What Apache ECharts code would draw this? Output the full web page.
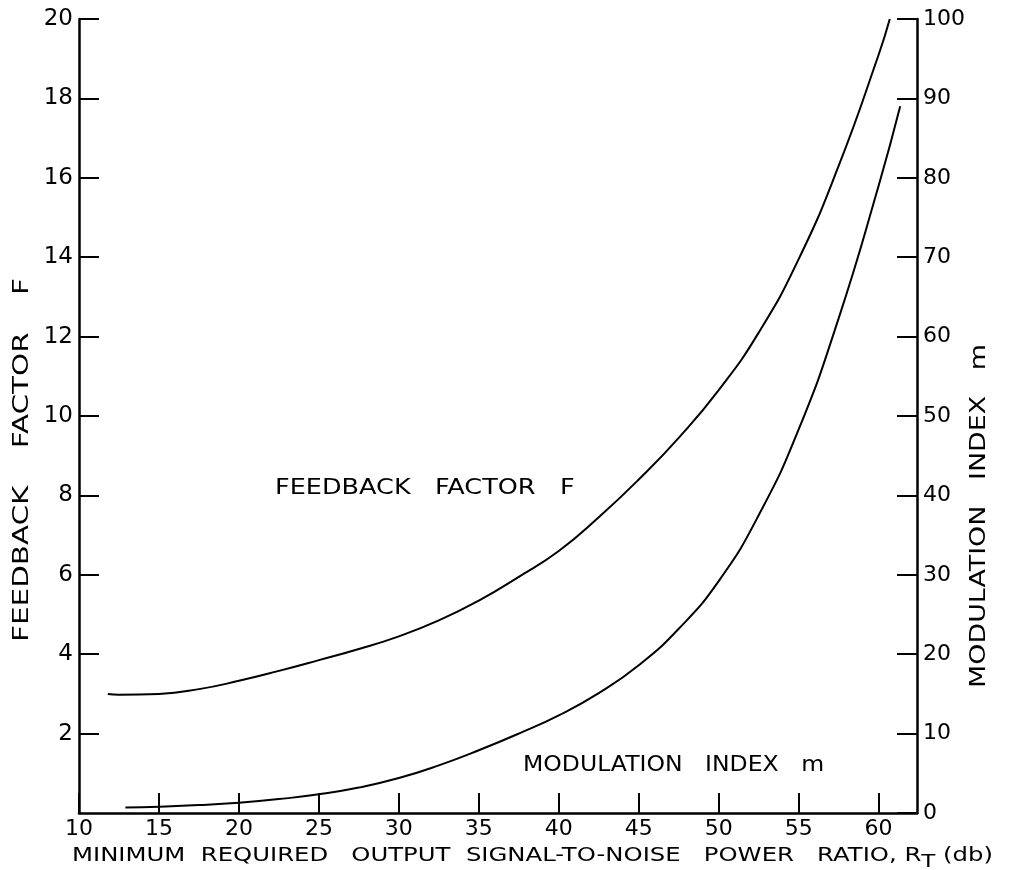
<!DOCTYPE html>
<html>
<head>
<meta charset="utf-8">
<script src="https://cdn.jsdelivr.net/npm/echarts@6/dist/echarts.min.js"></script>
<style>
html,body{margin:0;padding:0;background:#fff;}
#chart{width:1009px;height:870px;}
</style>
</head>
<body>
<div id="chart"></div>
<script>
// Feedback factor F (left axis) vs R_T (db)
var rtF = [11.8, 12.5, 15, 17.5, 20, 22.5, 25, 27.5, 30, 32.5, 35, 37.5, 40, 42.5, 45, 47.5, 50, 52.5, 55, 57.5, 60, 60.7];
var feedbackF = [3.0, 2.98, 3.0, 3.12, 3.33, 3.58, 3.85, 4.13, 4.45, 4.85, 5.35, 5.95, 6.6, 7.45, 8.4, 9.45, 10.65, 12.1, 13.95, 16.3, 19.1, 20.0];
// Modulation index m (right axis) vs R_T (db)
var rtM = [12.9, 15, 17.5, 20, 22.5, 25, 27.5, 30, 32.5, 35, 37.5, 40, 42.5, 45, 47.5, 50, 52.5, 55, 57.5, 60, 61.35];
var modIndex = [0.7, 0.8, 1.0, 1.3, 1.75, 2.35, 3.2, 4.4, 6.0, 7.9, 10.0, 12.3, 15.1, 18.6, 23.2, 29.2, 37.5, 48.3, 62.3, 79.0, 89.0];

var xTicks = [10, 15, 20, 25, 30, 35, 40, 45, 50, 55, 60];
var leftTitle = 'FEEDBACK    FACTOR    F';
var rightTitle = 'MODULATION   INDEX   m';
var curveLabelF = 'FEEDBACK   FACTOR   F';
var curveLabelM = 'MODULATION   INDEX   m';

var FONT = 'DejaVu Sans';

function pairs(xs, ys) { return xs.map(function (x, i) { return [x, ys[i]]; }); }

var chart = echarts.init(document.getElementById('chart'), null, {renderer: 'canvas'});

var axisLineStyle = {show: true, lineStyle: {color: '#000', width: 2.5}};
var tickStyle = {show: true, inside: true, length: 20, lineStyle: {color: '#000', width: 2}};

function txt(x, y, text, size, sx, rot, align) {
  return {
    type: 'text', x: x, y: y, rotation: rot || 0, scaleX: sx, scaleY: 1,
    style: {text: text, fill: '#000', fontFamily: FONT, fontSize: size,
      align: align, verticalAlign: 'middle', textAlign: align, textVerticalAlign: 'middle'}
  };
}

chart.setOption({
  backgroundColor: '#fff',
  animation: false,
  grid: {left: 79, right: 92, top: 19, bottom: 57},
  xAxis: {
    type: 'value', min: 10, max: 62.4, interval: 5,
    axisLine: axisLineStyle,
    axisTick: {show: true, inside: true, length: 20, lineStyle: {color: '#000', width: 2}, customValues: xTicks},
    splitLine: {show: false},
    axisLabel: {color: '#000', fontFamily: FONT, fontSize: 22, margin: 5, customValues: xTicks}
  },
  yAxis: [
    {
      type: 'value', position: 'left', min: 0, max: 20, interval: 2,
      axisLine: axisLineStyle, axisTick: tickStyle, splitLine: {show: false},
      axisLabel: {color: '#000', fontFamily: FONT, fontSize: 23, margin: 6, showMinLabel: false}
    },
    {
      type: 'value', position: 'right', min: 0, max: 100, interval: 10,
      axisLine: axisLineStyle, axisTick: tickStyle, splitLine: {show: false},
      axisLabel: {color: '#000', fontFamily: FONT, fontSize: 22, margin: 6}
    }
  ],
  series: [
    {
      type: 'line', yAxisIndex: 0, data: pairs(rtF, feedbackF),
      smooth: 0.5, showSymbol: false, symbol: 'none',
      lineStyle: {color: '#000', width: 2}
    },
    {
      type: 'line', yAxisIndex: 1, data: pairs(rtM, modIndex),
      smooth: 0.5, showSymbol: false, symbol: 'none',
      lineStyle: {color: '#000', width: 2}
    }
  ],
  graphic: [
    txt(23, 460, leftTitle, 21, 1.4, Math.PI / 2, 'center'),
    txt(980, 516, rightTitle, 21, 1.28, Math.PI / 2, 'center'),
    txt(275, 488, curveLabelF, 22, 1.16, 0, 'left'),
    txt(523, 765, curveLabelM, 22, 1.07, 0, 'left'),
    {type: 'text', x: 72, y: 856, scaleX: 1.28, scaleY: 1,
      style: {
        text: '{a|MINIMUM  REQUIRED   OUTPUT  SIGNAL-TO-NOISE   POWER   RATIO, R}{s|T}{a| (db)}',
        fill: '#000', align: 'left', verticalAlign: 'middle', textAlign: 'left', textVerticalAlign: 'middle',
        rich: {
          a: {fontFamily: FONT, fontSize: 19, lineHeight: 30, verticalAlign: 'middle', fill: '#000', color: '#000'},
          s: {fontFamily: FONT, fontSize: 18, lineHeight: 18, verticalAlign: 'bottom', fill: '#000', color: '#000'}
        }
      }}
  ]
});
</script>
</body>
</html>
